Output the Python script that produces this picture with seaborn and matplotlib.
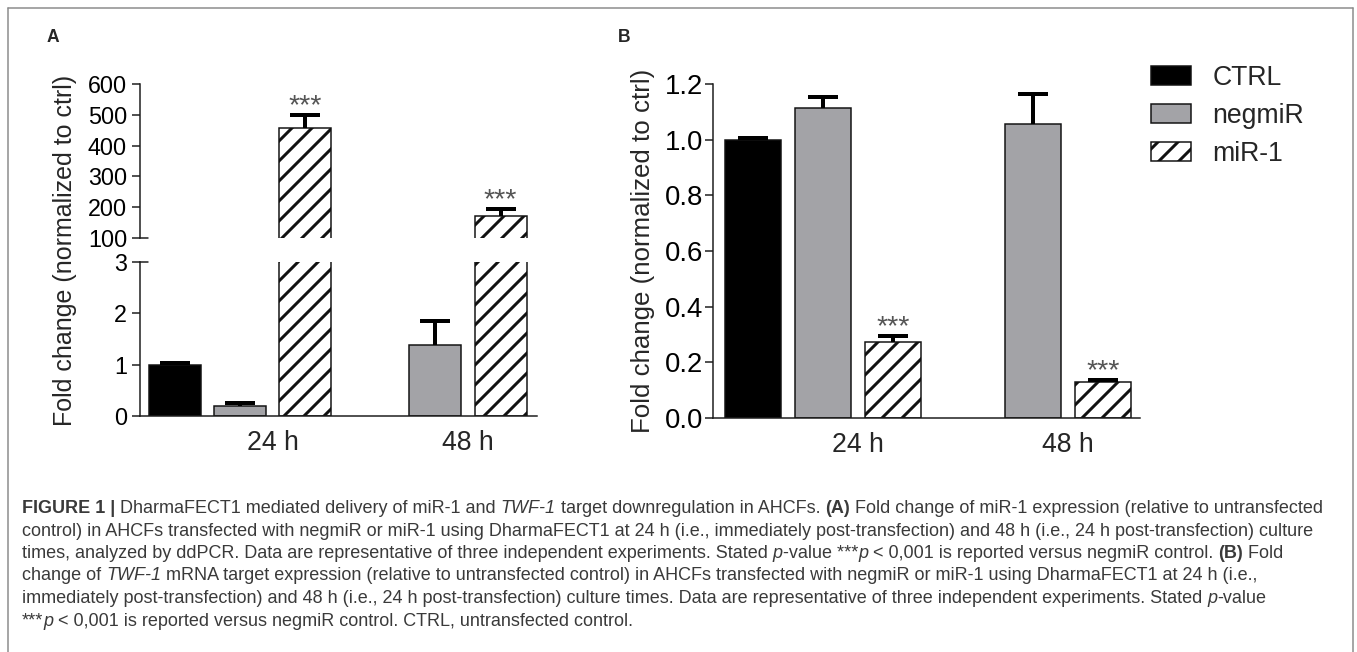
import numpy as np
import pandas as pd
import matplotlib
matplotlib.use("Agg")
import matplotlib.pyplot as plt
from matplotlib.patches import Patch
from matplotlib.lines import Line2D
from matplotlib import font_manager
import seaborn as sns

# ---- data ----
times = ["24 h", "48 h"]
groups = ["CTRL", "negmiR", "miR-1"]
colors = {"CTRL": "#000000", "negmiR": "#a3a3a7", "miR-1": "#ffffff"}

# (A) miR-1 expression by ddPCR (CTRL not measured at 48 h)
a_time = ["24 h", "24 h", "24 h", "48 h", "48 h"]
a_group = ["CTRL", "negmiR", "miR-1", "negmiR", "miR-1"]
a_mean = [1.0, 0.19, 456, 1.38, 171]
a_err = [0.03, 0.06, 43, 0.47, 22]
a_sig = ["", "", "***", "", "***"]

# (B) TWF-1 mRNA expression
b_time = ["24 h", "24 h", "24 h", "48 h", "48 h"]
b_group = ["CTRL", "negmiR", "miR-1", "negmiR", "miR-1"]
b_mean = [1.0, 1.113, 0.274, 1.055, 0.130]
b_err = [0.006, 0.042, 0.021, 0.108, 0.008]
b_sig = ["", "", "***", "", "***"]

caption = [
    [("FIGURE 1 |", "b"), (" DharmaFECT1 mediated delivery of miR-1 and ", "n"), ("TWF-1", "i"),
     (" target downregulation in AHCFs. ", "n"), ("(A)", "b"),
     (" Fold change of miR-1 expression (relative to untransfected", "n")],
    [("control) in AHCFs transfected with negmiR or miR-1 using DharmaFECT1 at 24 h (i.e., immediately "
      "post-transfection) and 48 h (i.e., 24 h post-transfection) culture", "n")],
    [("times, analyzed by ddPCR. Data are representative of three independent experiments. Stated ", "n"),
     ("p", "i"), ("-value ***", "n"), ("p", "i"), (" < 0,001 is reported versus negmiR control. ", "n"),
     ("(B)", "b"), (" Fold", "n")],
    [("change of ", "n"), ("TWF-1", "i"),
     (" mRNA target expression (relative to untransfected control) in AHCFs transfected with negmiR or "
      "miR-1 using DharmaFECT1 at 24 h (i.e.,", "n")],
    [("immediately post-transfection) and 48 h (i.e., 24 h post-transfection) culture times. Data are "
      "representative of three independent experiments. Stated ", "n"), ("p", "i"), ("-value", "n")],
    [("***", "n"), ("p", "i"), (" < 0,001 is reported versus negmiR control. CTRL, untransfected control.", "n")],
]

df_a = pd.DataFrame({"time": a_time, "group": a_group, "mean": a_mean, "err": a_err, "sig": a_sig})
df_b = pd.DataFrame({"time": b_time, "group": b_group, "mean": b_mean, "err": b_err, "sig": b_sig})

# ---- style ----
sns.set_style("ticks")
plt.rcParams["font.family"] = ["Liberation Sans", "DejaVu Sans"]
plt.rcParams["hatch.linewidth"] = 1.8
plt.rcParams["axes.linewidth"] = 0.9
plt.rcParams["axes.edgecolor"] = "#1a1a1a"

W, H, DPI = 1357, 652, 120
fig = plt.figure(figsize=(W / DPI, H / DPI), dpi=DPI)


def box(x0, y0, x1, y1):
    # pixel box (top-left origin) -> figure fraction rect
    return [x0 / W, 1 - y1 / H, (x1 - x0) / W, (y1 - y0) / H]


ax_top = fig.add_axes(box(140, 84, 537, 238))
ax_bot = fig.add_axes(box(140, 262, 537, 416))
ax_b = fig.add_axes(box(713, 84, 1140, 418))


def draw_bars(ax, df):
    sns.barplot(data=df, x="time", y="mean", hue="group", order=times, hue_order=groups,
                palette=colors, saturation=1, width=1.0, gap=0.2, edgecolor="#111111",
                linewidth=0.9, errorbar=None, legend=False, ax=ax)
    xs, tops, errs, sigs = [], [], [], []
    for bar in ax.patches:
        cx = bar.get_x() + bar.get_width() / 2
        ti = int(round(cx))
        slot = int(round((cx - ti) * 3)) + 1
        row = df[(df["time"] == times[ti]) & (df["group"] == groups[slot])]
        if row.empty:
            continue
        if groups[slot] == "miR-1":
            bar.set_hatch("//")
        xs.append(cx)
        tops.append(row["mean"].iloc[0])
        errs.append(row["err"].iloc[0])
        sigs.append(row["sig"].iloc[0])
    eb = ax.errorbar(xs, tops, yerr=[np.zeros(len(errs)), errs], fmt="none", ecolor="black",
                     elinewidth=2.4, capsize=9, capthick=2.4, zorder=3)
    # one-sided bars: drop the cap sitting on the bar top
    for cap in eb[1]:
        if np.allclose(cap.get_ydata(), tops):
            cap.set_visible(False)
    return xs, tops, errs, sigs


def add_stars(ax, xs, tops, errs, sigs, size):
    for x, t, e, s in zip(xs, tops, errs, sigs):
        if s:
            ax.annotate(s, (x, t + e), xytext=(0, 1), textcoords="offset points",
                        ha="center", va="baseline", fontsize=size, color="#555555")


# ---- panel A (broken axis) ----
res = None
for ax in (ax_top, ax_bot):
    res = draw_bars(ax, df_a)
    ax.set_xlim(-0.513, 1.52)
    ax.set_xlabel("")
    ax.set_ylabel("")
    ax.tick_params(axis="y", labelsize=14, length=4.8, width=0.9, pad=3, colors="#1a1a1a",
                   labelcolor="black")

ax_top.set_ylim(100, 600)
ax_top.set_yticks(np.arange(100, 601, 100))
ax_top.set_xticks([])
sns.despine(ax=ax_top, bottom=True)
add_stars(ax_top, *res, size=17)

ax_bot.set_ylim(0, 3)
ax_bot.set_yticks([0, 1, 2, 3])
ax_bot.set_xticks([i + 1 / 6 for i in range(len(times))], times)
ax_bot.tick_params(axis="x", length=0, labelsize=16, pad=8.5)
sns.despine(ax=ax_bot)

# break marks where the two segments meet
for ax in (ax_top, ax_bot):
    y = 0 if ax is ax_top else 1
    ax.plot([0, 0.02], [y, y], transform=ax.transAxes, color="#1a1a1a", lw=0.9, clip_on=False)

fig.text(65 / W, 1 - 250 / H, "Fold change (normalized to ctrl)", rotation=90,
         ha="center", va="center", fontsize=15)

# ---- panel B ----
res_b = draw_bars(ax_b, df_b)
add_stars(ax_b, *res_b, size=17)
ax_b.set_xlim(-0.524, 1.51)
ax_b.set_ylim(0, 1.2)
ax_b.set_yticks(np.arange(0, 1.21, 0.2))
ax_b.yaxis.set_major_formatter(matplotlib.ticker.FormatStrFormatter("%.1f"))
ax_b.set_xticks([i + 1 / 6 for i in range(len(times))], times)
ax_b.set_xlabel("")
ax_b.set_ylabel("")
ax_b.tick_params(axis="y", labelsize=16.5, length=4.8, width=0.9, pad=1.2, colors="#1a1a1a",
                 labelcolor="black")
ax_b.tick_params(axis="x", length=0, labelsize=16, pad=8.5)
sns.despine(ax=ax_b)
fig.text(643 / W, 1 - 251 / H, "Fold change (normalized to ctrl)", rotation=90,
         ha="center", va="center", fontsize=15.5)

# legend
handles = [Patch(facecolor=colors[g], edgecolor="#111111", linewidth=0.9,
                 hatch="//" if g == "miR-1" else None) for g in groups]
fig.legend(handles, groups, loc="upper left", bbox_to_anchor=(1151 / W, 1 - 65 / H),
           frameon=False, fontsize=16, handlelength=1.5, handleheight=0.75,
           handletextpad=0.8, labelspacing=0.45, borderpad=0, borderaxespad=0)

# panel letters
fig.text(47 / W, 1 - 37 / H, "A", fontsize=10.5, fontweight="bold", va="center", ha="left")
fig.text(618 / W, 1 - 37 / H, "B", fontsize=10.5, fontweight="bold", va="center", ha="left")

# outer frame (open at the bottom)
frame_kw = dict(color="#8a8a8a", lw=0.9, transform=fig.transFigure)
fig.add_artist(Line2D([8 / W, 8 / W], [0, 1 - 8 / H], **frame_kw))
fig.add_artist(Line2D([8 / W, 1353 / W], [1 - 8 / H, 1 - 8 / H], **frame_kw))
fig.add_artist(Line2D([1353 / W, 1353 / W], [0, 1 - 8 / H], **frame_kw))


# ---- caption with mixed bold / italic runs ----
def has_font(name):
    try:
        font_manager.findfont(font_manager.FontProperties(family=name), fallback_to_default=False)
        return True
    except ValueError:
        return False


cap_family = "Liberation Sans Narrow" if has_font("Liberation Sans Narrow") else "Liberation Sans"
renderer = fig.canvas.get_renderer()


def run_kw(style, size):
    return dict(fontsize=size, family=cap_family, color="#3a3a3a",
                fontweight="bold" if style == "b" else "normal",
                fontstyle="italic" if style == "i" else "normal")


def text_width(s, kw):
    t = fig.text(0, 0, "I" + s + "I", **kw)
    w1 = t.get_window_extent(renderer).width
    t.set_text("II")
    w2 = t.get_window_extent(renderer).width
    t.remove()
    return w1 - w2


def line_width(segs, size):
    return sum(text_width(s, run_kw(st, size)) for s, st in segs)


# size the caption so the first line spans the same width as in the figure
cap_size = 10.0
cap_size *= (1327 - 22) / line_width(caption[0], cap_size)

baselines = [513, 535.5, 558, 580.5, 603, 625.5]
for segs, yb in zip(caption, baselines):
    x = 22.0
    for s, st in segs:
        kw = run_kw(st, cap_size)
        fig.text(x / W, 1 - yb / H, s, ha="left", va="baseline", **kw)
        x += text_width(s, kw)

fig.savefig("out.png", dpi=DPI)
